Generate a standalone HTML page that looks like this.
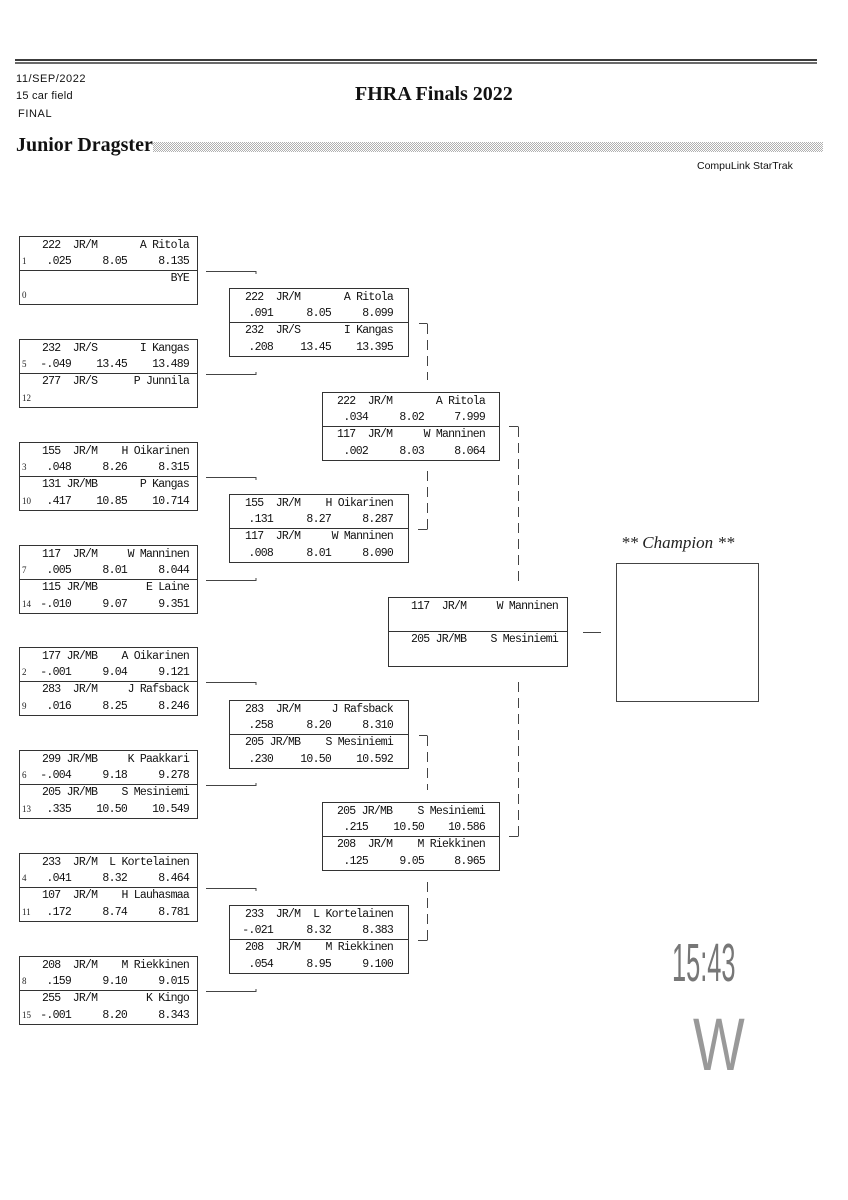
<!DOCTYPE html>
<html>
<head>
<meta charset="utf-8">
<style>
html,body{margin:0;padding:0;background:#fff;}
body{width:848px;height:1200px;position:relative;overflow:hidden;}
.a{position:absolute;}
.hdr{position:absolute;font-family:"Liberation Sans",sans-serif;font-size:11px;line-height:13px;color:#111;white-space:pre;}
.bx{position:absolute;box-sizing:border-box;border:1px solid #333;height:69px;background:#fff;}
.r1{width:179px;left:19px;}
.r2{width:180px;left:229px;}
.r3{width:178px;left:322px;}
.dv{position:absolute;left:0;right:0;top:33px;height:1px;background:#333;}
.m{position:absolute;font-family:"Liberation Mono",monospace;font-size:11.5px;letter-spacing:-0.76px;line-height:17px;color:#111;white-space:pre;}
.sd{position:absolute;font-family:"Liberation Serif",serif;font-size:9px;line-height:17px;color:#222;left:2px;}
.y1{top:0px}.y2{top:16px}.y3{top:33px}.y4{top:50px}
.r1 .n{left:22px}.r1 .rt{right:126px}.r1 .et{right:70px}.r1 .sp{right:8px}
.r2 .n{left:15px}.r2 .rt{right:135px}.r2 .et{right:77px}.r2 .sp{right:15px}
.r3 .n{left:14px}.r3 .rt{right:131px}.r3 .et{right:75px}.r3 .sp{right:14px}
</style>
</head>
<body>

<div class="a" style="left:15px;top:59px;width:802px;height:2px;background:#3c3c3c;"></div>
<div class="a" style="left:15px;top:62px;width:802px;height:1.5px;background:#6a6a6a;"></div>

<div class="hdr" style="left:16px;top:73px;letter-spacing:0.55px;">11/SEP/2022</div>
<div class="hdr" style="left:16px;top:90px;letter-spacing:0.25px;">15 car field</div>
<div class="hdr" style="left:18px;top:108px;letter-spacing:0.6px;">FINAL</div>

<div class="a" style="left:355px;top:84px;font-family:'Liberation Serif',serif;font-weight:bold;font-size:20px;line-height:20px;color:#111;white-space:pre;">FHRA Finals 2022</div>

<div class="a" style="left:16px;top:135px;font-family:'Liberation Serif',serif;font-weight:bold;font-size:20px;line-height:20px;color:#111;white-space:pre;">Junior Dragster</div>
<div class="a" style="left:153px;top:142px;width:670px;height:10px;background:repeating-conic-gradient(#b0b0b0 0 25%,#ffffff 0 50%) 0 0/2px 2px;"></div>

<div class="hdr" style="left:697px;top:160px;font-size:10.5px;">CompuLink StarTrak</div>

<!-- Round 1 -->
<div class="bx r1" style="top:236px;">
  <span class="m n y1">222  JR/M</span><span class="m sp y1">A Ritola</span>
  <span class="sd y2">1</span><span class="m rt y2">.025</span><span class="m et y2">8.05</span><span class="m sp y2">8.135</span>
  <div class="dv"></div>
  <span class="m sp y3">BYE</span>
  <span class="sd y4">0</span>
</div>
<div class="bx r1" style="top:339px;">
  <span class="m n y1">232  JR/S</span><span class="m sp y1">I Kangas</span>
  <span class="sd y2">5</span><span class="m rt y2">-.049</span><span class="m et y2">13.45</span><span class="m sp y2">13.489</span>
  <div class="dv"></div>
  <span class="m n y3">277  JR/S</span><span class="m sp y3">P Junnila</span>
  <span class="sd y4">12</span>
</div>
<div class="bx r1" style="top:442px;">
  <span class="m n y1">155  JR/M</span><span class="m sp y1">H Oikarinen</span>
  <span class="sd y2">3</span><span class="m rt y2">.048</span><span class="m et y2">8.26</span><span class="m sp y2">8.315</span>
  <div class="dv"></div>
  <span class="m n y3">131 JR/MB</span><span class="m sp y3">P Kangas</span>
  <span class="sd y4">10</span><span class="m rt y4">.417</span><span class="m et y4">10.85</span><span class="m sp y4">10.714</span>
</div>
<div class="bx r1" style="top:545px;">
  <span class="m n y1">117  JR/M</span><span class="m sp y1">W Manninen</span>
  <span class="sd y2">7</span><span class="m rt y2">.005</span><span class="m et y2">8.01</span><span class="m sp y2">8.044</span>
  <div class="dv"></div>
  <span class="m n y3">115 JR/MB</span><span class="m sp y3">E Laine</span>
  <span class="sd y4">14</span><span class="m rt y4">-.010</span><span class="m et y4">9.07</span><span class="m sp y4">9.351</span>
</div>
<div class="bx r1" style="top:647px;">
  <span class="m n y1">177 JR/MB</span><span class="m sp y1">A Oikarinen</span>
  <span class="sd y2">2</span><span class="m rt y2">-.001</span><span class="m et y2">9.04</span><span class="m sp y2">9.121</span>
  <div class="dv"></div>
  <span class="m n y3">283  JR/M</span><span class="m sp y3">J Rafsback</span>
  <span class="sd y4">9</span><span class="m rt y4">.016</span><span class="m et y4">8.25</span><span class="m sp y4">8.246</span>
</div>
<div class="bx r1" style="top:750px;">
  <span class="m n y1">299 JR/MB</span><span class="m sp y1">K Paakkari</span>
  <span class="sd y2">6</span><span class="m rt y2">-.004</span><span class="m et y2">9.18</span><span class="m sp y2">9.278</span>
  <div class="dv"></div>
  <span class="m n y3">205 JR/MB</span><span class="m sp y3">S Mesiniemi</span>
  <span class="sd y4">13</span><span class="m rt y4">.335</span><span class="m et y4">10.50</span><span class="m sp y4">10.549</span>
</div>
<div class="bx r1" style="top:853px;">
  <span class="m n y1">233  JR/M</span><span class="m sp y1">L Kortelainen</span>
  <span class="sd y2">4</span><span class="m rt y2">.041</span><span class="m et y2">8.32</span><span class="m sp y2">8.464</span>
  <div class="dv"></div>
  <span class="m n y3">107  JR/M</span><span class="m sp y3">H Lauhasmaa</span>
  <span class="sd y4">11</span><span class="m rt y4">.172</span><span class="m et y4">8.74</span><span class="m sp y4">8.781</span>
</div>
<div class="bx r1" style="top:956px;">
  <span class="m n y1">208  JR/M</span><span class="m sp y1">M Riekkinen</span>
  <span class="sd y2">8</span><span class="m rt y2">.159</span><span class="m et y2">9.10</span><span class="m sp y2">9.015</span>
  <div class="dv"></div>
  <span class="m n y3">255  JR/M</span><span class="m sp y3">K Kingo</span>
  <span class="sd y4">15</span><span class="m rt y4">-.001</span><span class="m et y4">8.20</span><span class="m sp y4">8.343</span>
</div>

<!-- Round 2 -->
<div class="bx r2" style="top:288px;">
  <span class="m n y1">222  JR/M</span><span class="m sp y1">A Ritola</span>
  <span class="m rt y2">.091</span><span class="m et y2">8.05</span><span class="m sp y2">8.099</span>
  <div class="dv"></div>
  <span class="m n y3">232  JR/S</span><span class="m sp y3">I Kangas</span>
  <span class="m rt y4">.208</span><span class="m et y4">13.45</span><span class="m sp y4">13.395</span>
</div>
<div class="bx r2" style="top:494px;">
  <span class="m n y1">155  JR/M</span><span class="m sp y1">H Oikarinen</span>
  <span class="m rt y2">.131</span><span class="m et y2">8.27</span><span class="m sp y2">8.287</span>
  <div class="dv"></div>
  <span class="m n y3">117  JR/M</span><span class="m sp y3">W Manninen</span>
  <span class="m rt y4">.008</span><span class="m et y4">8.01</span><span class="m sp y4">8.090</span>
</div>
<div class="bx r2" style="top:700px;">
  <span class="m n y1">283  JR/M</span><span class="m sp y1">J Rafsback</span>
  <span class="m rt y2">.258</span><span class="m et y2">8.20</span><span class="m sp y2">8.310</span>
  <div class="dv"></div>
  <span class="m n y3">205 JR/MB</span><span class="m sp y3">S Mesiniemi</span>
  <span class="m rt y4">.230</span><span class="m et y4">10.50</span><span class="m sp y4">10.592</span>
</div>
<div class="bx r2" style="top:905px;">
  <span class="m n y1">233  JR/M</span><span class="m sp y1">L Kortelainen</span>
  <span class="m rt y2">-.021</span><span class="m et y2">8.32</span><span class="m sp y2">8.383</span>
  <div class="dv"></div>
  <span class="m n y3">208  JR/M</span><span class="m sp y3">M Riekkinen</span>
  <span class="m rt y4">.054</span><span class="m et y4">8.95</span><span class="m sp y4">9.100</span>
</div>

<!-- Round 3 -->
<div class="bx r3" style="top:392px;">
  <span class="m n y1">222  JR/M</span><span class="m sp y1">A Ritola</span>
  <span class="m rt y2">.034</span><span class="m et y2">8.02</span><span class="m sp y2">7.999</span>
  <div class="dv"></div>
  <span class="m n y3">117  JR/M</span><span class="m sp y3">W Manninen</span>
  <span class="m rt y4">.002</span><span class="m et y4">8.03</span><span class="m sp y4">8.064</span>
</div>
<div class="bx r3" style="top:802px;">
  <span class="m n y1">205 JR/MB</span><span class="m sp y1">S Mesiniemi</span>
  <span class="m rt y2">.215</span><span class="m et y2">10.50</span><span class="m sp y2">10.586</span>
  <div class="dv"></div>
  <span class="m n y3">208  JR/M</span><span class="m sp y3">M Riekkinen</span>
  <span class="m rt y4">.125</span><span class="m et y4">9.05</span><span class="m sp y4">8.965</span>
</div>

<!-- Final -->
<div class="bx" style="left:388px;top:597px;width:180px;height:70px;">
  <span class="m y1" style="left:22px;">117  JR/M</span><span class="m y1" style="right:9px;">W Manninen</span>
  <div class="dv"></div>
  <span class="m y3" style="left:22px;">205 JR/MB</span><span class="m y3" style="right:9px;">S Mesiniemi</span>
</div>

<!-- Champion -->
<div class="a" style="left:621px;top:533px;font-family:'Liberation Serif',serif;font-style:italic;font-size:17px;line-height:20px;color:#222;white-space:pre;">** Champion **</div>
<div class="a" style="left:616px;top:563px;width:143px;height:139px;box-sizing:border-box;border:1px solid #444;"></div>

<svg class="a" style="left:0;top:0;" width="848" height="1200" viewBox="0 0 848 1200">
  <g stroke="#444" stroke-width="1" fill="none" shape-rendering="crispEdges">
    <path d="M206 271.5 H256 V274"/>
    <path d="M206 374.5 H256 V372"/>
    <path d="M206 477.5 H256 V480"/>
    <path d="M206 580.5 H256 V578"/>
    <path d="M206 682.5 H256 V685"/>
    <path d="M206 785.5 H256 V783"/>
    <path d="M206 888.5 H256 V891"/>
    <path d="M206 991.5 H256 V989"/>
    <path d="M419 323.5 H427.5"/>
    <path d="M418 529.5 H427.5"/>
    <path d="M419 735.5 H427.5"/>
    <path d="M418 940.5 H427.5"/>
    <path d="M509 426.5 H518.5"/>
    <path d="M509 836.5 H518.5"/>
    <path d="M583 632.5 H601"/>
  </g>
  <g stroke="#444" stroke-width="1" fill="none" stroke-dasharray="10 6" shape-rendering="crispEdges">
    <path d="M427.5 324 V380"/>
    <path d="M427.5 529 V470"/>
    <path d="M427.5 736 V790"/>
    <path d="M427.5 940 V881"/>
    <path d="M518.5 427 V587"/>
    <path d="M518.5 836 V677"/>
  </g>
</svg>

<div class="a" style="left:672px;top:936px;font-family:'Liberation Sans',sans-serif;font-size:54px;line-height:54px;color:#777;white-space:pre;transform:scaleX(0.47);transform-origin:0 0;">15:43</div>
<div class="a" style="left:693px;top:1008px;font-family:'Liberation Sans',sans-serif;font-size:74px;line-height:74px;color:#999;white-space:pre;transform:scaleX(0.74);transform-origin:0 0;">W</div>

</body>
</html>
